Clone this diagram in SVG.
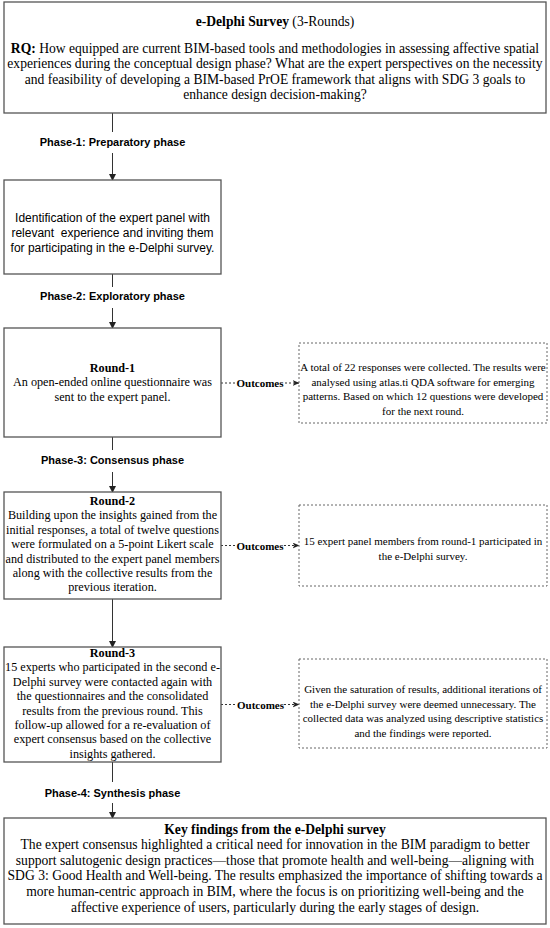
<svg xmlns="http://www.w3.org/2000/svg" width="550" height="928" viewBox="0 0 550 928">
<defs>
<style>
.box{fill:#fff;stroke:#555;stroke-width:1.3}
.dbox{fill:#fff;stroke:#666;stroke-width:1;stroke-dasharray:2,2}
.ln{stroke:#333;stroke-width:1;fill:none}
.dl{stroke:#333;stroke-width:1;fill:none;stroke-dasharray:2,2}
.t{font-family:"Liberation Serif","Times New Roman",serif;fill:#000;text-anchor:middle}
.big{font-size:13.6px}
.mid{font-size:12.2px}
.sm{font-size:11px}
.b{font-weight:bold}
.ph{font-family:"Liberation Sans",Arial,sans-serif;font-size:11px;font-weight:bold;fill:#000;text-anchor:middle}
.sans{font-family:"Liberation Sans",Arial,sans-serif;font-size:12px;fill:#000;text-anchor:middle}
</style>
<marker id="ah" markerWidth="7" markerHeight="7" refX="6" refY="3.5" orient="auto" markerUnits="userSpaceOnUse">
<path d="M0,0 L7,3.5 L0,7 z" fill="#222"/>
</marker>
<marker id="ah2" markerWidth="7" markerHeight="6" refX="6.5" refY="3" orient="auto" markerUnits="userSpaceOnUse">
<path d="M0,0 L7,3 L0,6 L2,3 z" fill="#222"/>
</marker>
</defs>

<g id="connectors">
<line class="ln" x1="112.5" y1="113" x2="112.5" y2="132"/>
<line class="ln" x1="112.5" y1="153" x2="112.5" y2="180" marker-end="url(#ah)"/>
<line class="ln" x1="112.5" y1="274" x2="112.5" y2="287"/>
<line class="ln" x1="112.5" y1="308" x2="112.5" y2="328" marker-end="url(#ah)"/>
<line class="ln" x1="112.5" y1="437" x2="112.5" y2="450"/>
<line class="ln" x1="112.5" y1="472" x2="112.5" y2="492" marker-end="url(#ah)"/>
<line class="ln" x1="112.5" y1="599" x2="112.5" y2="647" marker-end="url(#ah)"/>
<line class="ln" x1="112.5" y1="762" x2="112.5" y2="782"/>
<line class="ln" x1="112.5" y1="803" x2="112.5" y2="818" marker-end="url(#ah)"/>
<line class="dl" x1="221" y1="383" x2="236" y2="383"/>
<line class="dl" x1="285" y1="383" x2="299" y2="383" marker-end="url(#ah2)"/>
<line class="dl" x1="221" y1="545.5" x2="236" y2="545.5"/>
<line class="dl" x1="284" y1="545.5" x2="299" y2="545.5" marker-end="url(#ah2)"/>
<line class="dl" x1="221" y1="704.5" x2="237" y2="704.5"/>
<line class="dl" x1="284" y1="704.5" x2="299" y2="704.5" marker-end="url(#ah2)"/>
<text class="t sm b" x="260" y="387">Outcomes</text>
<text class="t sm b" x="260" y="549.5">Outcomes</text>
<text class="t sm b" x="260.5" y="708.5">Outcomes</text>
<text class="ph" x="112.5" y="146">Phase-1: Preparatory phase</text>
<text class="ph" x="112.5" y="300">Phase-2: Exploratory phase</text>
<text class="ph" x="112.5" y="464">Phase-3: Consensus phase</text>
<text class="ph" x="112.5" y="797">Phase-4: Synthesis phase</text>
</g>

<g id="survey">
<rect class="box" x="4" y="2" width="542" height="111"/>
<text class="t big" x="275" y="25.5"><tspan class="b">e-Delphi Survey</tspan> (3-Rounds)</text>
<text class="t big" x="275" y="52.5"><tspan class="b">RQ:</tspan> How equipped are current BIM-based tools and methodologies in assessing affective spatial</text>
<text class="t big" x="275" y="68">experiences during the conceptual design phase? What are the expert perspectives on the necessity</text>
<text class="t big" x="275" y="83.5">and feasibility of developing a BIM-based PrOE framework that aligns with SDG 3 goals to</text>
<text class="t big" x="275" y="99">enhance design decision-making?</text>
</g>

<g id="preparatory">
<rect class="box" x="4" y="180" width="217" height="94"/>
<text class="sans" x="112.5" y="222">Identification of the expert panel with</text>
<text class="sans" x="112.5" y="237" xml:space="preserve">relevant  experience and inviting them</text>
<text class="sans" x="112.5" y="252">for participating in the e-Delphi survey.</text>
</g>

<g id="round1">
<rect class="box" x="4" y="328" width="217" height="109"/>
<text class="t mid b" x="112.5" y="372">Round-1</text>
<text class="t mid" x="112.5" y="386.4">An open-ended online questionnaire was</text>
<text class="t mid" x="112.5" y="400.8">sent to the expert panel.</text>
</g>

<g id="outcome1">
<rect class="dbox" x="299" y="343" width="248" height="80"/>
<text class="t sm" x="423" y="371.3">A total of 22 responses were collected. The results were</text>
<text class="t sm" x="423" y="385.8">analysed using atlas.ti QDA software for emerging</text>
<text class="t sm" x="423" y="400.3">patterns. Based on which 12 questions were developed</text>
<text class="t sm" x="423" y="414.8">for the next round.</text>
</g>

<g id="round2">
<rect class="box" x="4" y="492" width="217" height="107"/>
<text class="t mid b" x="112.5" y="505">Round-2</text>
<text class="t mid" x="112.5" y="519.4">Building upon the insights gained from the</text>
<text class="t mid" x="112.5" y="533.8">initial responses, a total of twelve questions</text>
<text class="t mid" x="112.5" y="548.2">were formulated on a 5-point Likert scale</text>
<text class="t mid" x="112.5" y="562.6">and distributed to the expert panel members</text>
<text class="t mid" x="112.5" y="577">along with the collective results from the</text>
<text class="t mid" x="112.5" y="591.4">previous iteration.</text>
</g>

<g id="outcome2">
<rect class="dbox" x="299" y="505" width="248" height="81"/>
<text class="t sm" x="423" y="545">15 expert panel members from round-1 participated in</text>
<text class="t sm" x="423" y="559.5">the e-Delphi survey.</text>
</g>

<g id="round3">
<rect class="box" x="4" y="647" width="217" height="115"/>
<text class="t mid b" x="112.5" y="657">Round-3</text>
<text class="t mid" x="112.5" y="671.4">15 experts who participated in the second e-</text>
<text class="t mid" x="112.5" y="685.8">Delphi survey were contacted again with</text>
<text class="t mid" x="112.5" y="700.2">the questionnaires and the consolidated</text>
<text class="t mid" x="112.5" y="714.6">results from the previous round. This</text>
<text class="t mid" x="112.5" y="729">follow-up allowed for a re-evaluation of</text>
<text class="t mid" x="112.5" y="743.4">expert consensus based on the collective</text>
<text class="t mid" x="112.5" y="757.8">insights gathered.</text>
</g>

<g id="outcome3">
<rect class="dbox" x="299" y="659" width="248" height="89"/>
<text class="t sm" x="423" y="693">Given the saturation of results, additional iterations of</text>
<text class="t sm" x="423" y="707.5">the e-Delphi survey were deemed unnecessary. The</text>
<text class="t sm" x="423" y="722">collected data was analyzed using descriptive statistics</text>
<text class="t sm" x="423" y="736.5">and the findings were reported.</text>
</g>

<g id="findings">
<rect class="box" x="4" y="818" width="542" height="106"/>
<text class="t big b" x="275" y="833.5">Key findings from the e-Delphi survey</text>
<text class="t big" x="275" y="849.1">The expert consensus highlighted a critical need for innovation in the BIM paradigm to better</text>
<text class="t big" x="275" y="864.7">support salutogenic design practices—those that promote health and well-being—aligning with</text>
<text class="t big" x="275" y="880.3">SDG 3: Good Health and Well-being. The results emphasized the importance of shifting towards a</text>
<text class="t big" x="275" y="895.9">more human-centric approach in BIM, where the focus is on prioritizing well-being and the</text>
<text class="t big" x="275" y="911.5">affective experience of users, particularly during the early stages of design.</text>
</g>
</svg>
